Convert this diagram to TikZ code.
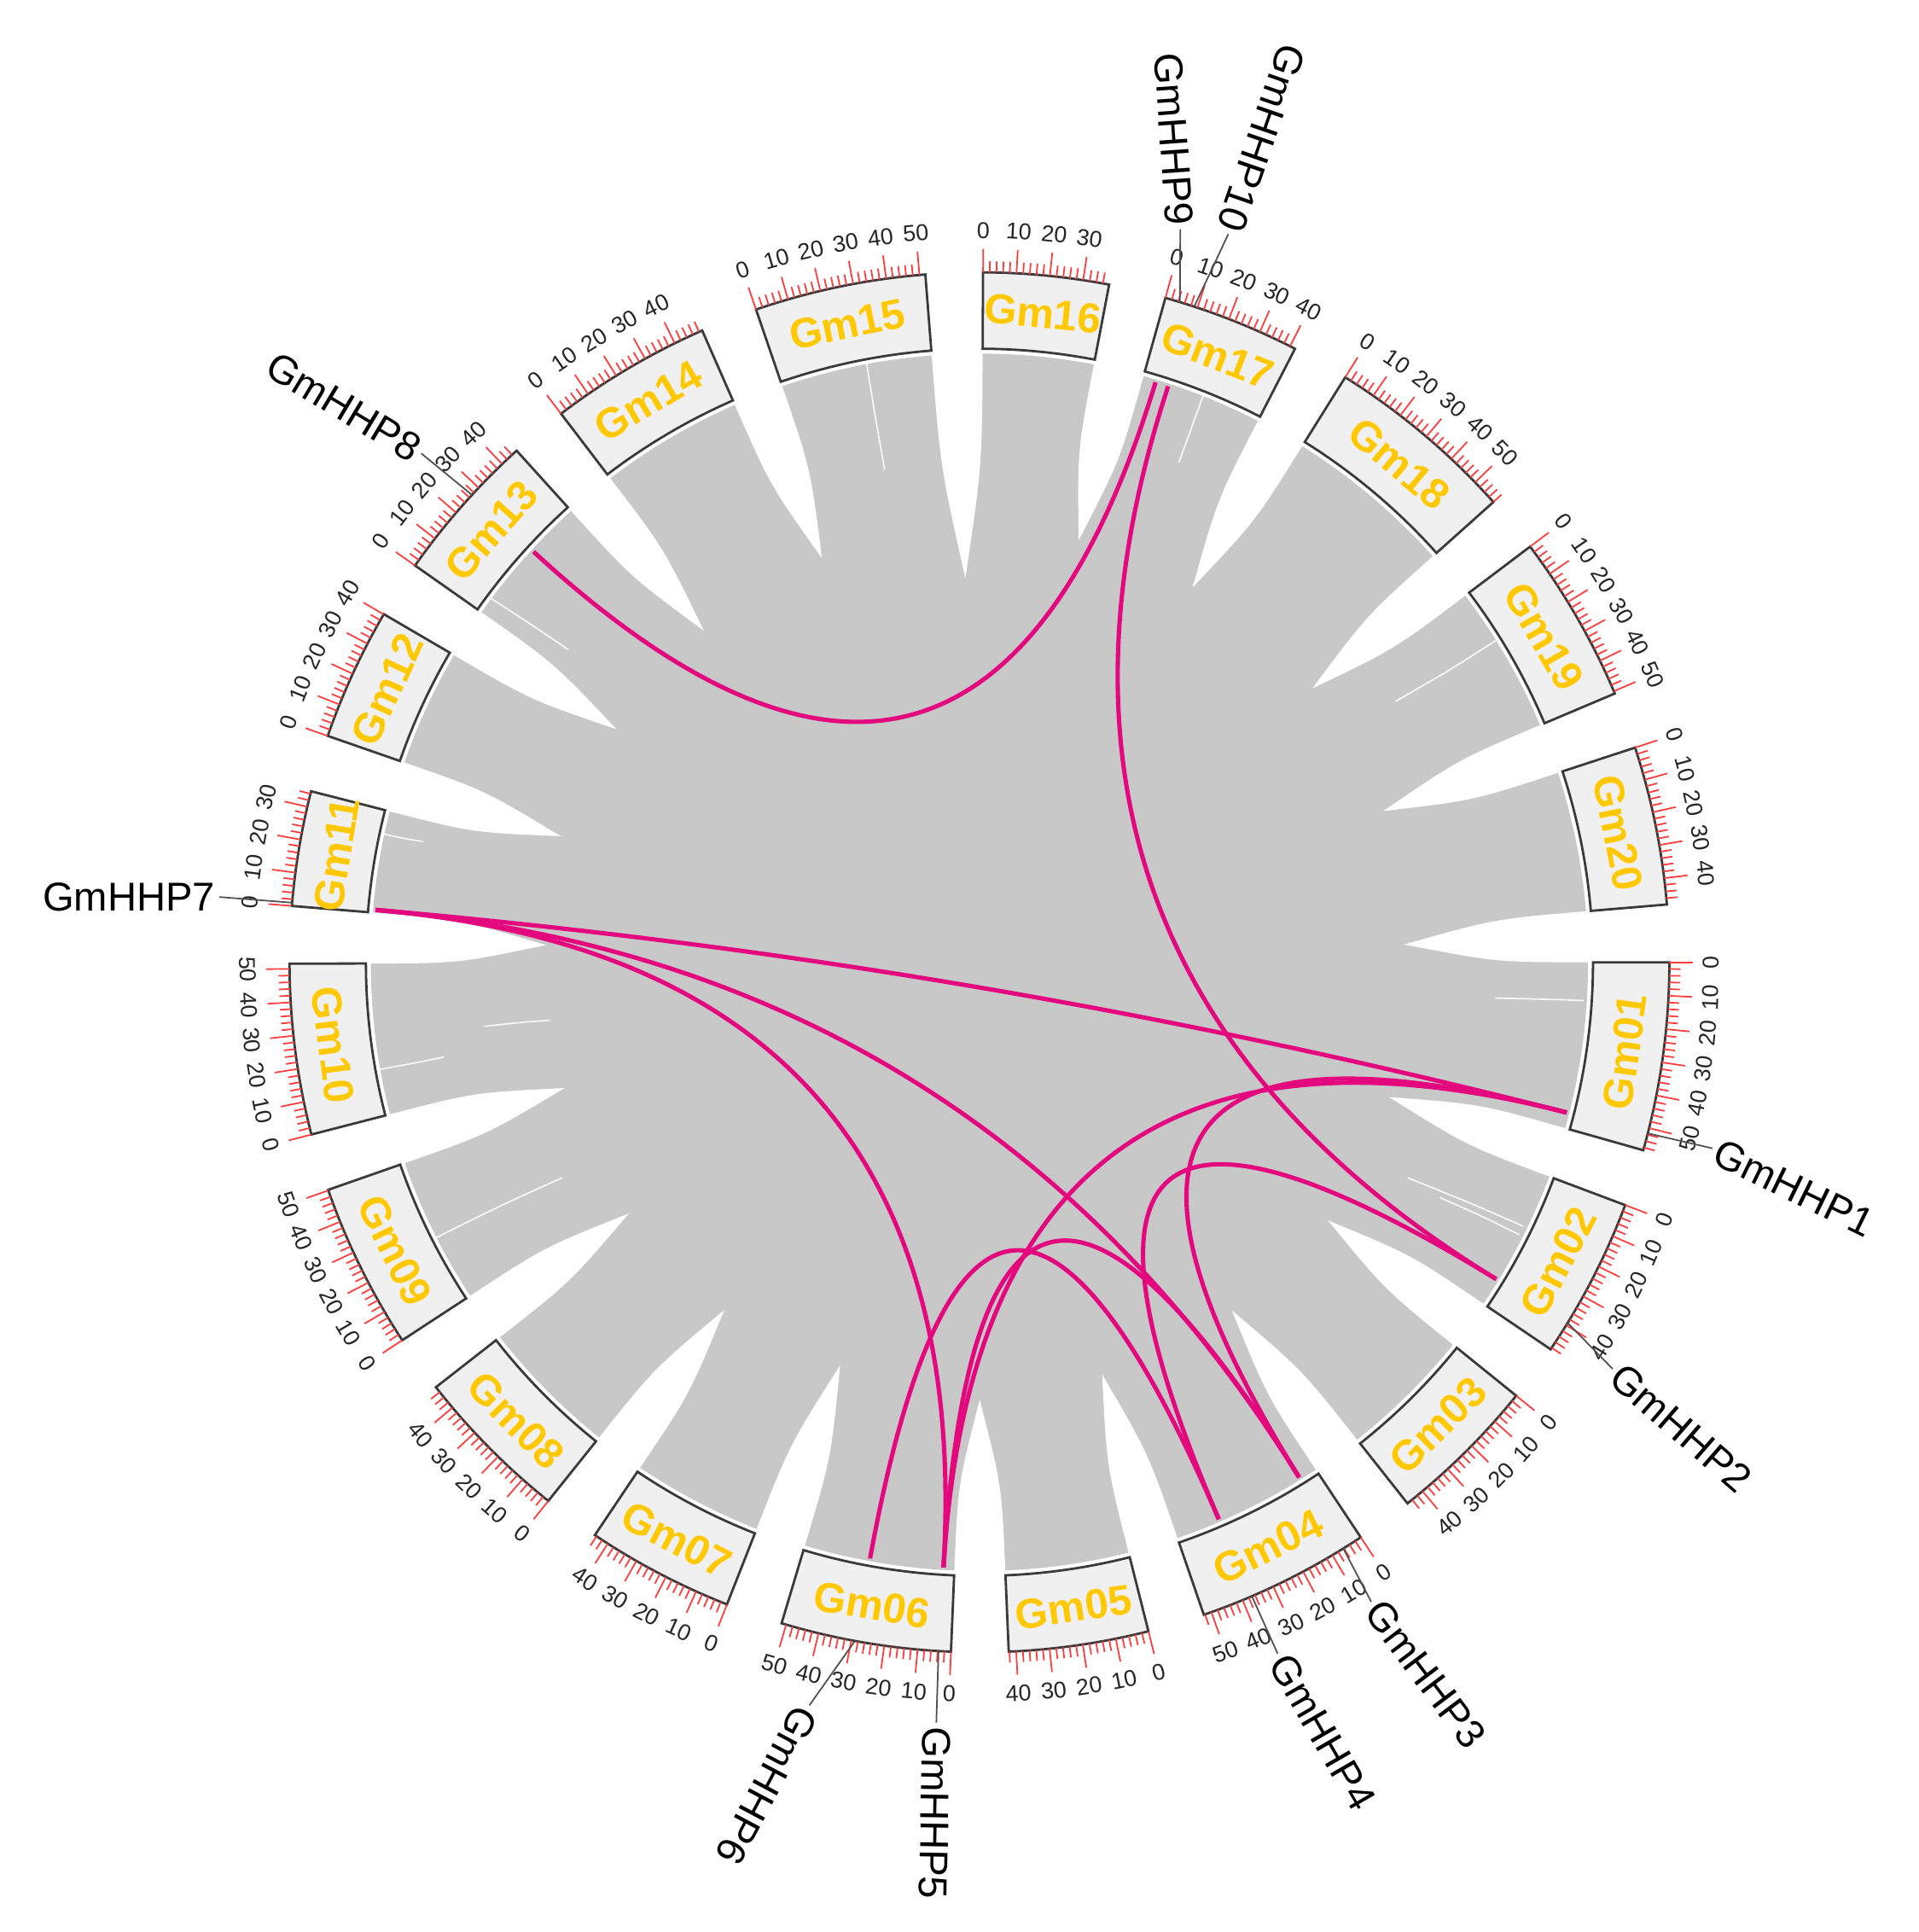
\documentclass[tikz,border=0pt]{standalone}
\usepackage{fontspec}
\setmainfont{Liberation Sans}
\usetikzlibrary{calc}
\definecolor{ribbon}{HTML}{C8C8C8}
\definecolor{boxfill}{HTML}{F0F0F0}
\definecolor{boxline}{HTML}{3A3A3A}
\definecolor{gold}{HTML}{FFC800}
\definecolor{tickred}{HTML}{FF3B3B}
\definecolor{linkc}{HTML}{E4087F}
\definecolor{leadc}{HTML}{505050}
\tikzset{
 chrbox/.style={fill=boxfill, draw=boxline, line width=0.55pt},
 chrlab/.style={text=gold, font=\fontsize{9.7}{10}\selectfont\bfseries, inner sep=0pt},
 tickln/.style={draw=tickred, line width=0.35pt},
 ticklab/.style={font=\fontsize{5.3}{5.3}\selectfont, inner sep=0pt, text=black!85},
 lnk/.style={draw=linkc, line width=1pt},
 lead/.style={draw=leadc, line width=0.35pt},
 glab/.style={font=\fontsize{9.3}{10}\selectfont, inner sep=0.8pt},
 spike/.style={fill=white},
 streak/.style={draw=white!85!ribbon, line width=0.35pt, line cap=round},
}
\newcommand\mkgene[2]{%
  \coordinate (h#1) at (#2:492);
  \coordinate (h#1c) at (#2:164);
  \coordinate (h#1o) at (#2:560);
}
\begin{document}
\begin{tikzpicture}[x=0.1mm, y=0.1mm]
\useasboundingbox (-795,-787) rectangle (762,781);
% ribbons
\fill[ribbon] (0,0) circle (494);
\foreach \Ea/\Tr in {-15.806/350, -34.117/352, -51.649/349, -71.020/349, -87.566/355,
  -106.667/346, -123.880/350, -141.985/350, -160.744/352, -179.886/352,
  -194.356/355, -210.306/350, -227.865/350, -246.305/352, -265.500/312,
  -280.838/352, -297.219/350, -318.156/350, -337.070/350, -355.192/345}
{
  \pgfmathsetmacro\Na{\Ea-4.8}
  \pgfmathsetmacro\Ga{\Ea-2.4}
  \pgfmathsetmacro\Rc{0.5*(\Tr+494)}
  \fill[spike] (\Ea:500) -- (\Ea:494) .. controls (\Ea:\Rc) .. (\Ga:\Tr)
     .. controls (\Na:\Rc) .. (\Na:494) -- (\Na:500) -- cycle;
}
% thin white streaks inside the ribbons
\draw[streak] (490,-31) .. controls (460,-30) .. (419,-29);
\draw[streak] (441,-214) .. controls (400,-196) .. (348,-175);
\draw[streak] (438,-221) .. controls (410,-207) .. (374,-191);
\draw[streak] (419,261) .. controls (380,236) .. (338,212);
\draw[streak] (-442,-224) .. controls (-390,-198) .. (-339,-175);
\draw[streak] (-487,-87) .. controls (-460,-82) .. (-435,-77);
\draw[streak] (-402,-52) .. controls (-375,-49) .. (-349,-47);
\draw[streak] (-487,105) .. controls (-470,101) .. (-452,98);
\draw[streak] (-399,297) .. controls (-365,275) .. (-334,254);
\draw[streak] (-92,489) .. controls (-85,445) .. (-77,400);
\draw[streak] (182,461) .. controls (172,433) .. (162,406);
% genes
\mkgene{1}{-14.35}
\mkgene{2}{-31.51}
\mkgene{3}{-58.17}
\mkgene{4}{-66.74}
\mkgene{5}{-93.40}
\mkgene{6}{-100.40}
\mkgene{7}{175.04}
\mkgene{8}{137.36}
\mkgene{9}{73.11}
\mkgene{10}{71.86}
% links
\draw[lnk] (h9) .. controls (h9c) and (h8c) .. (h8);
\draw[lnk] (h10) .. controls (h10c) and (h2c) .. (h2);
\draw[lnk] (h7) .. controls (h7c) and (h1c) .. (h1);
\draw[lnk] (h7) .. controls (h7c) and (h3c) .. (h3);
\draw[lnk] (h7) .. controls (h7c) and (h5c) .. (h5);
\draw[lnk] (h1) .. controls (h1c) and (h5c) .. (h5);
\draw[lnk] (h1) .. controls (h1c) and (h3c) .. (h3);
\draw[lnk] (h2) .. controls (h2c) and (h4c) .. (h4);
\draw[lnk] (h6) .. controls (h6c) and (h4c) .. (h4);
\draw[lnk] (h5) .. controls (h5c) and (h3c) .. (h3);
% chromosomes
\foreach \Nm/\St/\Ln in {
01/0/56.83, 02/-20.606/48.58, 03/-38.917/45.78, 04/-56.449/52.39, 05/-75.820/42.23,
06/-92.366/51.42, 07/-111.467/44.63, 08/-128.680/47.84, 09/-146.785/50.19, 10/-165.544/51.57,
11/-184.686/34.77, 12/-199.156/40.09, 13/-215.106/45.87, 14/-232.665/49.04, 15/-251.105/51.76,
16/-270.300/37.89, 17/-285.638/41.64, 18/-302.019/58.02, 19/-322.956/50.75, 20/-341.870/47.90}
{
  \pgfmathsetmacro\En{\St-0.27813*\Ln}
  \draw[chrbox] (\St:498) arc[start angle=\St, end angle=\En, radius=498]
     -- (\En:560) arc[start angle=\En, end angle=\St, radius=560] -- cycle;
  \pgfmathsetmacro\Ma{(\St+\En)/2}
  \pgfmathsetmacro\Mn{\Ma<-180 ? \Ma+360 : \Ma}
  \pgfmathsetmacro\Rt{\Mn>0 ? \Mn-90 : \Mn+90}
  \node[chrlab, rotate=\Rt] (chr\Nm) at (\Mn:529) {Gm\Nm};
  \pgfmathtruncatemacro\Nt{floor(\Ln/2)}
  \foreach \J in {0,...,\Nt} {
    \pgfmathsetmacro\Ang{\St-0.55626*\J}
    \pgfmathtruncatemacro\Mj{mod(\J,5)==0 ? 1 : 0}
    \ifnum\Mj=1
      \draw[tickln] (\Ang:560) -- (\Ang:579);
    \else
      \draw[tickln] (\Ang:560) -- (\Ang:569);
    \fi
  }
  \foreach \Q in {0,10,20,30,40,50} {
    \pgfmathtruncatemacro\Ok{\Q<=\Ln ? 1 : 0}
    \ifnum\Ok=1
      \pgfmathsetmacro\Ang{\St-0.27813*\Q}
      \pgfmathsetmacro\An{\Ang<-180 ? \Ang+360 : \Ang}
      \pgfmathsetmacro\Ra{\An>0 ? \An-90 : \An+90}
      \node[ticklab, rotate=\Ra] (t\Nm-\Q) at (\An:594) {\Q};
    \fi
  }
}
% gene labels
\node[glab, anchor=west, rotate=-26] (l1) at (595,-151) {GmHHP1};
\node[glab, anchor=west, rotate=-41] (l2) at (514,-330) {GmHHP2};
\node[glab, anchor=west, rotate=-53] (l3) at (318,-519) {GmHHP3};
\node[glab, anchor=west, rotate=-60] (l4) at (242,-561) {GmHHP4};
\node[glab, anchor=west, rotate=-91] (l5) at (-35,-617) {GmHHP5};
\node[glab, anchor=west, rotate=-118] (l6) at (-138,-603) {GmHHP6};
\node[glab, anchor=east] (l7) at (-617,53) {GmHHP7};
\node[glab, anchor=east, rotate=-31] (l8) at (-453,413) {GmHHP8};
\node[glab, anchor=east, rotate=-86] (l9) at (163,595) {GmHHP9};
\node[glab, anchor=east, rotate=-109] (l10) at (202,591) {GmHHP10};
\draw[lead] (h1o) -- (l1.west);
\draw[lead] (h2o) -- (l2.west);
\draw[lead] (h3o) -- (l3.west);
\draw[lead] (h4o) -- (l4.west);
\draw[lead] (h5o) -- (l5.west);
\draw[lead] (h6o) -- (l6.west);
\draw[lead] (h7o) -- (l7.east);
\draw[lead] (h8o) -- (l8.east);
\draw[lead] (h9o) -- (l9.east);
\draw[lead] (h10o) -- (l10.east);
\end{tikzpicture}
\end{document}
